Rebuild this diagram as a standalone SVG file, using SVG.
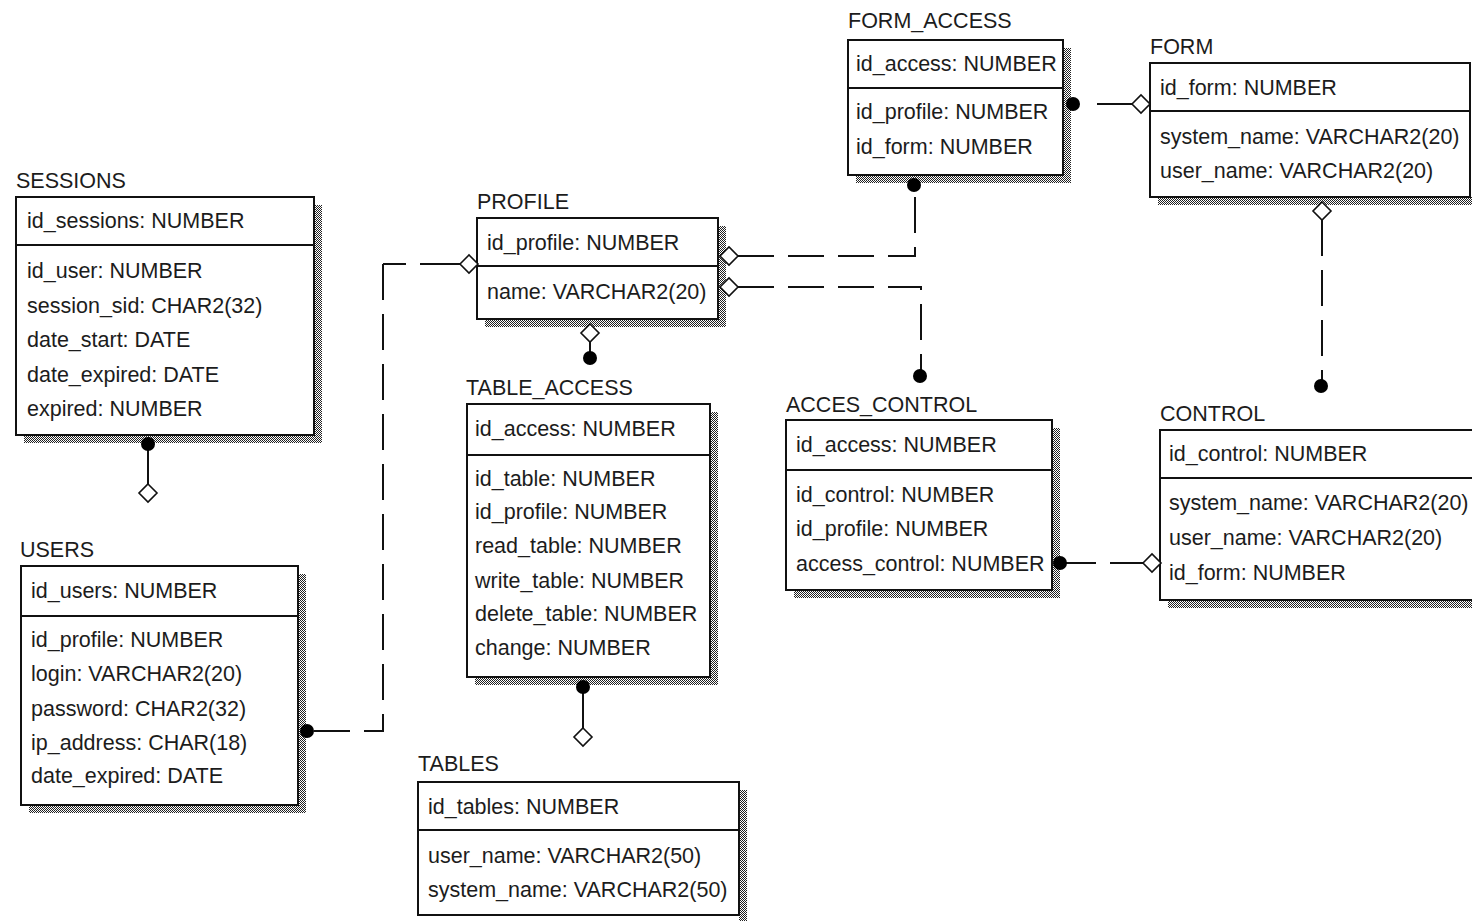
<svg xmlns="http://www.w3.org/2000/svg" width="1472" height="921" viewBox="0 0 1472 921">
<defs>
<pattern id="hatch" width="2" height="2" patternUnits="userSpaceOnUse">
<rect width="2" height="2" fill="#ffffff"/>
<rect width="1" height="1" fill="#222"/>
<rect x="1" y="1" width="1" height="1" fill="#222"/>
</pattern>
</defs>
<style>
text{font-family:"Liberation Sans",Arial,sans-serif;font-size:21.5px;fill:#1c1c1c}
.box{fill:#fff;stroke:#111;stroke-width:2}
.div{stroke:#111;stroke-width:2}
.sh{fill:url(#hatch)}
.ln{fill:none;stroke:#111;stroke-width:2}
.dash{fill:none;stroke:#111;stroke-width:2;stroke-dasharray:36 14}
.dia{fill:#fff;stroke:#111;stroke-width:1.6}
.dot{fill:#000}
</style>
<rect width="1472" height="921" fill="#fff"/>

<g id="SESSIONS">
<text x="16" y="188">SESSIONS</text>
<rect class="sh" x="314" y="205" width="8" height="238"/><rect class="sh" x="24" y="435" width="298" height="8"/>
<rect class="box" x="16" y="197" width="298" height="238"/>
<line class="div" x1="16" y1="245" x2="314" y2="245"/>
<text x="27" y="228">id_sessions: NUMBER</text>
<text x="27" y="278">id_user: NUMBER</text>
<text x="27" y="313">session_sid: CHAR2(32)</text>
<text x="27" y="347">date_start: DATE</text>
<text x="27" y="382">date_expired: DATE</text>
<text x="27" y="416">expired: NUMBER</text>
</g>

<g id="PROFILE">
<text x="477" y="209">PROFILE</text>
<rect class="sh" x="718" y="226" width="8" height="101"/><rect class="sh" x="485" y="319" width="241" height="8"/>
<rect class="box" x="477" y="218" width="241" height="101"/>
<line class="div" x1="477" y1="266" x2="718" y2="266"/>
<text x="487" y="250">id_profile: NUMBER</text>
<text x="487" y="299">name: VARCHAR2(20)</text>
</g>

<g id="FORM_ACCESS">
<text x="848" y="28">FORM_ACCESS</text>
<rect class="sh" x="1063" y="48" width="8" height="135"/><rect class="sh" x="856" y="175" width="215" height="8"/>
<rect class="box" x="848" y="40" width="215" height="135"/>
<line class="div" x1="848" y1="88" x2="1063" y2="88"/>
<text x="856" y="71">id_access: NUMBER</text>
<text x="856" y="119">id_profile: NUMBER</text>
<text x="856" y="154">id_form: NUMBER</text>
</g>

<g id="FORM">
<text x="1150" y="54">FORM</text>
<rect class="sh" x="1158" y="197" width="314" height="8"/>
<rect class="box" x="1150" y="63" width="320" height="134"/>
<line class="div" x1="1150" y1="111" x2="1470" y2="111"/>
<text x="1160" y="95">id_form: NUMBER</text>
<text x="1160" y="144">system_name: VARCHAR2(20)</text>
<text x="1160" y="178">user_name: VARCHAR2(20)</text>
</g>

<g id="TABLE_ACCESS">
<text x="466" y="395">TABLE_ACCESS</text>
<rect class="sh" x="710" y="412" width="8" height="273"/><rect class="sh" x="475" y="677" width="243" height="8"/>
<rect class="box" x="467" y="404" width="243" height="273"/>
<line class="div" x1="467" y1="455" x2="710" y2="455"/>
<text x="475" y="436">id_access: NUMBER</text>
<text x="475" y="486">id_table: NUMBER</text>
<text x="475" y="519">id_profile: NUMBER</text>
<text x="475" y="553">read_table: NUMBER</text>
<text x="475" y="588">write_table: NUMBER</text>
<text x="475" y="621">delete_table: NUMBER</text>
<text x="475" y="655">change: NUMBER</text>
</g>

<g id="TABLES">
<text x="418" y="771">TABLES</text>
<rect class="sh" x="739" y="790" width="8" height="131"/>
<rect class="box" x="418" y="782" width="321" height="133"/>
<line class="div" x1="418" y1="830" x2="739" y2="830"/>
<text x="428" y="814">id_tables: NUMBER</text>
<text x="428" y="863">user_name: VARCHAR2(50)</text>
<text x="428" y="897">system_name: VARCHAR2(50)</text>
</g>

<g id="USERS">
<text x="20" y="557">USERS</text>
<rect class="sh" x="298" y="574" width="8" height="239"/><rect class="sh" x="29" y="805" width="277" height="8"/>
<rect class="box" x="21" y="566" width="277" height="239"/>
<line class="div" x1="21" y1="616" x2="298" y2="616"/>
<text x="31" y="598">id_users: NUMBER</text>
<text x="31" y="647">id_profile: NUMBER</text>
<text x="31" y="681">login: VARCHAR2(20)</text>
<text x="31" y="716">password: CHAR2(32)</text>
<text x="31" y="750">ip_address: CHAR(18)</text>
<text x="31" y="783">date_expired: DATE</text>
</g>

<g id="ACCES_CONTROL">
<text x="786" y="412">ACCES_CONTROL</text>
<rect class="sh" x="1052" y="428" width="8" height="170"/><rect class="sh" x="794" y="590" width="266" height="8"/>
<rect class="box" x="786" y="420" width="266" height="170"/>
<line class="div" x1="786" y1="470" x2="1052" y2="470"/>
<text x="796" y="452">id_access: NUMBER</text>
<text x="796" y="502">id_control: NUMBER</text>
<text x="796" y="536">id_profile: NUMBER</text>
<text x="796" y="571">access_control: NUMBER</text>
</g>

<g id="CONTROL">
<text x="1160" y="421">CONTROL</text>
<rect class="sh" x="1168" y="600" width="310" height="8"/>
<rect class="box" x="1160" y="430" width="320" height="170"/>
<line class="div" x1="1160" y1="478" x2="1480" y2="478"/>
<text x="1169" y="461">id_control: NUMBER</text>
<text x="1169" y="510">system_name: VARCHAR2(20)</text>
<text x="1169" y="545">user_name: VARCHAR2(20)</text>
<text x="1169" y="580">id_form: NUMBER</text>
</g>

<g id="connectors">
<!-- SESSIONS -> USERS -->
<line class="ln" x1="148" y1="444" x2="148" y2="484"/>
<circle class="dot" cx="148" cy="444" r="7"/>
<path class="dia" d="M148,484 L157,493 L148,502 L139,493 Z"/>
<!-- USERS -> PROFILE -->
<path class="dash" d="M383,264 V731 H313"/>
<line class="ln" x1="420" y1="264" x2="460" y2="264"/>
<line class="ln" x1="383" y1="264" x2="406" y2="264"/>
<circle class="dot" cx="307" cy="731" r="7"/>
<path class="dia" d="M460,264 L469,255 L478,264 L469,273 Z"/>
<!-- PROFILE -> TABLE_ACCESS -->
<line class="ln" x1="590" y1="342" x2="590" y2="356"/>
<path class="dia" d="M590,324 L599,333 L590,342 L581,333 Z"/>
<circle class="dot" cx="590" cy="358" r="7"/>
<!-- PROFILE -> FORM_ACCESS -->
<path class="dash" d="M738,256 H915 V185"/>
<path class="dia" d="M720,256 L729,247 L738,256 L729,265 Z"/>
<circle class="dot" cx="914" cy="185" r="7"/>
<!-- PROFILE -> ACCES_CONTROL -->
<path class="dash" d="M738,287 H921 V370"/>
<path class="dia" d="M720,287 L729,278 L738,287 L729,296 Z"/>
<circle class="dot" cx="920" cy="376" r="7"/>
<!-- FORM_ACCESS -> FORM -->
<line class="ln" x1="1097" y1="104" x2="1132" y2="104"/>
<circle class="dot" cx="1073" cy="104" r="7"/>
<path class="dia" d="M1132,104 L1141,95 L1150,104 L1141,113 Z"/>
<!-- FORM -> CONTROL -->
<path class="dash" d="M1322,220 V386"/>
<path class="dia" d="M1322,202 L1331,211 L1322,220 L1313,211 Z"/>
<circle class="dot" cx="1321" cy="386" r="7"/>
<!-- TABLE_ACCESS -> TABLES -->
<line class="ln" x1="583" y1="687" x2="583" y2="728"/>
<circle class="dot" cx="583" cy="687" r="7"/>
<path class="dia" d="M583,728 L592,737 L583,746 L574,737 Z"/>
<!-- ACCES_CONTROL -> CONTROL -->
<path class="dash" d="M1060,563 H1143" stroke-dasharray="22 12"/>
<circle class="dot" cx="1060" cy="563" r="7"/>
<path class="dia" d="M1143,563 L1152,554 L1161,563 L1152,572 Z"/>
</g>
</svg>
